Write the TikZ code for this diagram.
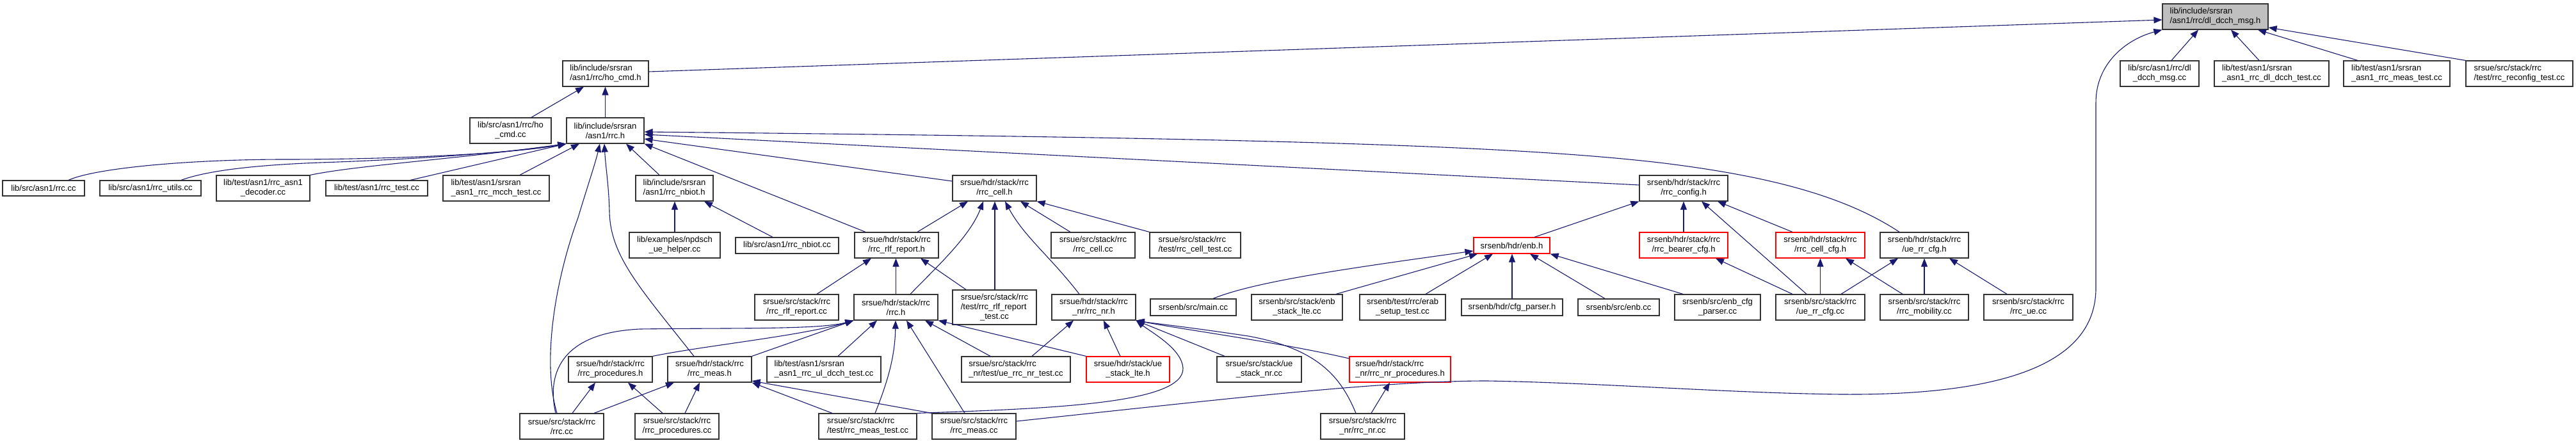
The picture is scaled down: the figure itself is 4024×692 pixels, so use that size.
\documentclass[tikz,border=0pt]{standalone}
\usepackage{fontspec}
\setmainfont{Liberation Sans}
\usetikzlibrary{arrows.meta}
\definecolor{edgec}{HTML}{191970}
\definecolor{rootc}{HTML}{BFBFBF}
\tikzset{
 nd/.style={draw=black!80, line width=1.2pt, fill=white, inner sep=0pt, font=\fontsize{13}{15}\selectfont, align=center, minimum height=40pt},
 lft/.style={align=left},
 one/.style={minimum height=25pt},
 trunc/.style={draw=red},
 rootn/.style={fill=rootc},
 edge/.style={draw=edgec, line width=1.1pt, -{Triangle[length=13pt,width=10pt]}}
}
\begin{document}
\begin{tikzpicture}[x=1pt,y=-1pt]
\fill[white] (0,0) rectangle (4024,692);
\useasboundingbox (0,0) rectangle (4024,692);
% row 0
\node[nd,rootn,lft,minimum width=165pt] (root) at (3460.5,26) {lib/include/srsran\\/asn1/rrc/dl\_dcch\_msg.h};
% row 1
\node[nd,lft,minimum width=134pt] (hocmdh) at (946,115) {lib/include/srsran\\/asn1/rrc/ho\_cmd.h};
\node[nd,minimum width=123pt] (dlcc) at (3373.5,115) {lib/src/asn1/rrc/dl\\\_dcch\_msg.cc};
\node[nd,lft,minimum width=179pt] (dltest) at (3548.5,115) {lib/test/asn1/srsran\\\_asn1\_rrc\_dl\_dcch\_test.cc};
\node[nd,lft,minimum width=166pt] (meastest) at (3744,115) {lib/test/asn1/srsran\\\_asn1\_rrc\_meas\_test.cc};
\node[nd,lft,minimum width=167pt] (reconf) at (3935.5,115) {srsue/src/stack/rrc\\/test/rrc\_reconfig\_test.cc};
% row 2
\node[nd,minimum width=127pt] (hocmdcc) at (797.5,204) {lib/src/asn1/rrc/ho\\\_cmd.cc};
\node[nd,minimum width=121pt] (rrch) at (945.5,204) {lib/include/srsran\\/asn1/rrc.h};
% row 3
\node[nd,minimum width=128pt,minimum height=24pt] (rrccc) at (68,294) {lib/src/asn1/rrc.cc};
\node[nd,minimum width=158pt,minimum height=24pt] (utils) at (235,294) {lib/src/asn1/rrc\_utils.cc};
\node[nd,minimum width=146pt] (decoder) at (411,294) {lib/test/asn1/rrc\_asn1\\\_decoder.cc};
\node[nd,minimum width=159pt,minimum height=24pt] (rrctest) at (588.5,294) {lib/test/asn1/rrc\_test.cc};
\node[nd,lft,minimum width=166pt] (mcch) at (775,294) {lib/test/asn1/srsran\\\_asn1\_rrc\_mcch\_test.cc};
\node[nd,lft,minimum width=121pt] (nbioth) at (1053.5,294) {lib/include/srsran\\/asn1/rrc\_nbiot.h};
\node[nd,minimum width=131pt] (cellh) at (1553.5,294) {srsue/hdr/stack/rrc\\/rrc\_cell.h};
\node[nd,minimum width=138pt] (configh) at (2630,294) {srsenb/hdr/stack/rrc\\/rrc\_config.h};
% row 4
\node[nd,minimum width=142pt] (npdsch) at (1054,383) {lib/examples/npdsch\\\_ue\_helper.cc};
\node[nd,one,minimum width=161pt] (nbiotcc) at (1229.5,383.5) {lib/src/asn1/rrc\_nbiot.cc};
\node[nd,minimum width=131pt] (rlfh) at (1400.5,383) {srsue/hdr/stack/rrc\\/rrc\_rlf\_report.h};
\node[nd,minimum width=131pt] (cellcc) at (1707.5,383) {srsue/src/stack/rrc\\/rrc\_cell.cc};
\node[nd,lft,minimum width=142pt] (celltest) at (1867,383) {srsue/src/stack/rrc\\/test/rrc\_cell\_test.cc};
\node[nd,one,trunc,minimum width=119pt] (enbh) at (2361.5,383.5) {srsenb/hdr/enb.h};
\node[nd,trunc,minimum width=138pt] (bearer) at (2630,383) {srsenb/hdr/stack/rrc\\/rrc\_bearer\_cfg.h};
\node[nd,trunc,minimum width=139pt] (cellcfg) at (2843.5,383) {srsenb/hdr/stack/rrc\\/rrc\_cell\_cfg.h};
\node[nd,minimum width=138pt] (uerrh) at (3006,383) {srsenb/hdr/stack/rrc\\/ue\_rr\_cfg.h};
% row 5
\node[nd,minimum width=131pt] (rlfcc) at (1244.5,480) {srsue/src/stack/rrc\\/rrc\_rlf\_report.cc};
\node[nd,minimum width=131pt] (srsuerrch) at (1399.5,480) {srsue/hdr/stack/rrc\\/rrc.h};
\node[nd,minimum width=131pt,minimum height=54pt] (rlftest) at (1553.5,480) {\begin{tabular}{@{}l@{}}srsue/src/stack/rrc\\/test/rrc\_rlf\_report\\\multicolumn{1}{@{}c@{}}{\_test.cc}\end{tabular}};
\node[nd,minimum width=131pt] (nrh) at (1708.5,480) {srsue/hdr/stack/rrc\\\_nr/rrc\_nr.h};
\node[nd,minimum width=134pt,minimum height=26pt] (mainc) at (1864,480) {srsenb/src/main.cc};
\node[nd,minimum width=142pt] (stacklte) at (2026,480) {srsenb/src/stack/enb\\\_stack\_lte.cc};
\node[nd,minimum width=134pt] (erab) at (2191,480) {srsenb/test/rrc/erab\\\_setup\_test.cc};
\node[nd,minimum width=158pt,minimum height=26pt] (cfgparser) at (2362,480) {srsenb/hdr/cfg\_parser.h};
\node[nd,minimum width=127pt,minimum height=26pt] (enbcc) at (2528.5,480) {srsenb/src/enb.cc};
\node[nd,minimum width=134pt] (enbcfg) at (2683,480) {srsenb/src/enb\_cfg\\\_parser.cc};
\node[nd,minimum width=139pt] (uerrcfgcc) at (2843.5,480) {srsenb/src/stack/rrc\\/ue\_rr\_cfg.cc};
\node[nd,minimum width=138pt] (mobility) at (3006,480) {srsenb/src/stack/rrc\\/rrc\_mobility.cc};
\node[nd,minimum width=139pt] (rrcue) at (3168.5,480) {srsenb/src/stack/rrc\\/rrc\_ue.cc};
% row 6
\node[nd,minimum width=131pt] (procsh) at (953.5,577) {srsue/hdr/stack/rrc\\/rrc\_procedures.h};
\node[nd,minimum width=131pt] (meash) at (1108.5,577) {srsue/hdr/stack/rrc\\/rrc\_meas.h};
\node[nd,lft,minimum width=178pt] (uldcch) at (1287,577) {lib/test/asn1/srsran\\\_asn1\_rrc\_ul\_dcch\_test.cc};
\node[nd,lft,minimum width=170pt] (uenrtest) at (1587,577) {srsue/src/stack/rrc\\\_nr/test/ue\_rrc\_nr\_test.cc};
\node[nd,trunc,minimum width=130pt] (stackh) at (1762,577) {srsue/hdr/stack/ue\\\_stack\_lte.h};
\node[nd,minimum width=132pt] (stacknr) at (1967,577) {srsue/src/stack/ue\\\_stack\_nr.cc};
\node[nd,lft,trunc,minimum width=158pt] (nrprocs) at (2187,577) {srsue/hdr/stack/rrc\\\_nr/rrc\_nr\_procedures.h};
% row 7
\node[nd,minimum width=131pt] (uecc) at (877.5,666) {srsue/src/stack/rrc\\/rrc.cc};
\node[nd,minimum width=131pt] (procscc) at (1057.5,666) {srsue/src/stack/rrc\\/rrc\_procedures.cc};
\node[nd,lft,minimum width=153pt] (meastestcc) at (1355.5,666) {srsue/src/stack/rrc\\/test/rrc\_meas\_test.cc};
\node[nd,minimum width=131pt] (meascc) at (1521.5,666) {srsue/src/stack/rrc\\/rrc\_meas.cc};
\node[nd,minimum width=131pt] (nrcc) at (2128.5,666) {srsue/src/stack/rrc\\\_nr/rrc\_nr.cc};

% edges to root
\draw[edge] (hocmdh.east |- 0,112) -- (root.west |- 0,31);
\draw[edge] (dlcc.north -| 3392,0) -- (root.south -| 3434,0);
\draw[edge] (dltest.north -| 3529,0) -- (root.south -| 3485,0);
\draw[edge] (meastest.north -| 3683,0) -- (root.south -| 3527,0);
\draw[edge] (reconf.north west) -- (root.east |- 0,43);
\draw[edge] (meascc.east |- 0,658) .. controls (1900,625) and (2150,595) .. (2323,595) .. controls (2500,598) and (2700,614) .. (2876,616) .. controls (3150,618) and (3274,560) .. (3274,450) -- (3274,160) .. controls (3274,100) and (3320,62) .. (root.south west);
% edges to ho_cmd.h
\draw[edge] (rrch.north) -- (hocmdh.south -| 945.5,0);
\draw[edge] (hocmdcc.north -| 830,0) -- (hocmdh.south -| 912,0);
% edges to lib rrc.h
\draw[edge] (rrccc.north -| 107,0) .. controls (150,262) and (300,249) .. (446,249) .. controls (620,249) and (800,240) .. (rrch.south west);
\draw[edge] (utils.north -| 283,0) .. controls (330,264) and (420,257) .. (500,254) .. controls (650,249) and (800,238) .. (rrch.south west);
\draw[edge] (decoder.north east) .. controls (560,258) and (700,250) .. (rrch.south west);
\draw[edge] (rrctest.north -| 641,0) -- (rrch.south west);
\draw[edge] (mcch.north -| 812,0) -- (rrch.south -| 905,0);
\draw[edge] (uecc.north -| 870,0) .. controls (845,560) and (870,430) .. (903,340) .. controls (918,290) and (930,255) .. (rrch.south -| 937,0);
\draw[edge] (meash.north -| 1084,0) .. controls (1000,450) and (953,400) .. (952,330) .. controls (951,290) and (946,260) .. (rrch.south -| 944,0);
\draw[edge] (nbioth.north -| 1030,0) -- (rrch.south -| 978,0);
\draw[edge] (rlfh.north -| 1352,0) -- (rrch.south east);
\draw[edge] (uerrh.north -| 2967,0) .. controls (2880,305) and (2760,275) .. (2600,255) .. controls (2350,225) and (1900,215) .. (rrch.east |- 0,206);
\draw[edge] (configh.west |- 0,289) -- (rrch.east |- 0,210);
\draw[edge] (cellh.west |- 0,283) -- (rrch.east |- 0,217);
% edges to rrc_nbiot.h
\draw[edge] (npdsch.north -| 1054,0) -- (nbioth.south -| 1054,0);
\draw[edge] (nbiotcc.north -| 1207,0) -- (nbioth.south -| 1100,0);
% edges to rrc_cell.h
\draw[edge] (rlfh.north -| 1433,0) -- (cellh.south -| 1512,0);
\draw[edge] (srsuerrch.north -| 1422,0) .. controls (1460,420) and (1515,370) .. (cellh.south -| 1536,0);
\draw[edge] (rlftest.north -| 1554,0) -- (cellh.south -| 1554,0);
\draw[edge] (nrh.north -| 1686,0) .. controls (1640,400) and (1600,370) .. (cellh.south -| 1570,0);
\draw[edge] (cellcc.north -| 1672,0) -- (cellh.south -| 1594,0);
\draw[edge] (celltest.north west) -- (cellh.south east);
% edges to rrc_config.h
\draw[edge] (enbh.north -| 2397,0) -- (configh.south west);
\draw[edge] (bearer.north) -- (configh.south);
\draw[edge] (uerrcfgcc.north -| 2822,0) -- (configh.south -| 2658,0);
\draw[edge] (cellcfg.north -| 2800,0) -- (configh.south -| 2683,0);
% edges to enb.h
\draw[edge] (mainc.north -| 1895,0) .. controls (1960,440) and (2100,420) .. (enbh.west |- 0,392);
\draw[edge] (stacklte.north -| 2087,0) -- (enbh.south -| 2308,0);
\draw[edge] (erab.north -| 2227,0) -- (enbh.south -| 2332,0);
\draw[edge] (cfgparser.north) -- (enbh.south -| 2362,0);
\draw[edge] (enbcc.north -| 2507,0) -- (enbh.south -| 2390,0);
\draw[edge] (enbcfg.north -| 2629,0) -- (enbh.south east);
% edges to bearer / cell_cfg / ue_rr_cfg.h
\draw[edge] (uerrcfgcc.north -| 2800,0) -- (bearer.south -| 2680,0);
\draw[edge] (uerrcfgcc.north) -- (cellcfg.south);
\draw[edge] (mobility.north -| 2972,0) -- (cellcfg.south -| 2883,0);
\draw[edge] (uerrcfgcc.north -| 2876,0) -- (uerrh.south -| 2965,0);
\draw[edge] (mobility.north) -- (uerrh.south);
\draw[edge] (rrcue.north -| 3135,0) -- (uerrh.south -| 3045,0);
% edges to rrc_rlf_report.h
\draw[edge] (rlfcc.north -| 1276,0) -- (rlfh.south -| 1361,0);
\draw[edge] (srsuerrch.north) -- (rlfh.south -| 1399.5,0);
\draw[edge] (rlftest.north -| 1509,0) -- (rlfh.south -| 1438,0);
% edges to srsue rrc.h
\draw[edge] (uecc.north -| 868,0) .. controls (855,590) and (870,520) .. (1000,514) .. controls (1150,512) and (1280,515) .. (srsuerrch.south west);
\draw[edge] (procsh.north east) .. controls (1100,540) and (1250,525) .. (srsuerrch.south west);
\draw[edge] (meash.north east) -- (srsuerrch.south west);
\draw[edge] (uldcch.north -| 1309,0) -- (srsuerrch.south -| 1370,0);
\draw[edge] (meastestcc.north -| 1367,0) .. controls (1385,600) and (1398,560) .. (srsuerrch.south -| 1399,0);
\draw[edge] (meascc.north -| 1507,0) -- (srsuerrch.south -| 1416,0);
\draw[edge] (uenrtest.north -| 1547,0) -- (srsuerrch.south -| 1445,0);
\draw[edge] (stackh.north west) -- (srsuerrch.south east);
% edges to procedures.h / meas.h
\draw[edge] (uecc.north -| 894,0) -- (procsh.south -| 930,0);
\draw[edge] (procscc.north -| 1035,0) -- (procsh.south -| 981,0);
\draw[edge] (uecc.north -| 928,0) -- (meash.south -| 1053,0);
\draw[edge] (procscc.north -| 1070,0) -- (meash.south -| 1093,0);
\draw[edge] (meastestcc.north -| 1300,0) -- (meash.south east);
\draw[edge] (meascc.north west) -- (meash.east |- 0,595);
% edges to rrc_nr.h
\draw[edge] (uenrtest.north -| 1612,0) -- (nrh.south -| 1677,0);
\draw[edge] (stackh.north -| 1750,0) -- (nrh.south -| 1724,0);
\draw[edge] (meastestcc.north east) .. controls (1650,638) and (1850,630) .. (1848,575) .. controls (1846,545) and (1800,520) .. (nrh.south east);
\draw[edge] (stacknr.north -| 1913,0) -- (nrh.south east);
\draw[edge] (nrprocs.west |- 0,560) .. controls (2000,535) and (1850,515) .. (nrh.south east);
\draw[edge] (nrcc.north -| 2118,0) .. controls (2095,590) and (2060,545) .. (1950,525) .. controls (1850,510) and (1800,505) .. (nrh.south east);
% edge to rrc_nr_procedures.h
\draw[edge] (nrcc.north -| 2142,0) -- (nrprocs.south -| 2171,0);
\end{tikzpicture}
\end{document}
